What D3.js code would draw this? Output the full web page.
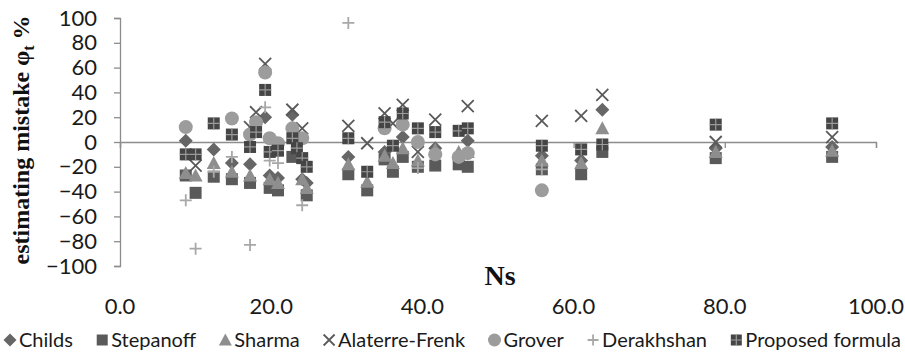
<!DOCTYPE html>
<html><head><meta charset="utf-8">
<script src="https://cdn.jsdelivr.net/npm/d3@7"></script>
<style>
html,body{margin:0;padding:0;background:#fff;}
svg{display:block;}
</style></head>
<body>
<svg id="chart" width="905" height="356"></svg>
<script>
// ---- data ----
const ns = [8.7, 10.0, 12.4, 14.8, 17.2, 18.0, 19.2, 19.8, 20.9, 22.8, 23.4, 24.1, 24.7, 30.2, 32.7, 35.0, 36.1, 37.4, 39.4, 41.7, 44.8, 46.0, 55.8, 61.0, 63.8, 78.8, 94.2];
const childs     = [1, null, -6, -17, -18, null, 20, -27, -29, 22, null, -30, -33, -12, null, -8, null, 4, null, -5, null, 1, -11, -15, 26, -5, -4];
const stepanoff  = [-27, -41, -28, -30, -33, null, null, -37, -39, -12, null, null, -43, -26, -39, -14, -24, -12, -20, -19, -18, -20, -22, -26, -8, -13, -12];
const sharma     = [-25, -27, -17, -24, -27, null, null, -30, -33, null, null, -30, -37, -18, -32, -11, -17, -5, -15, -6, -8, -8, -15, -17, 11, -8, -7];
const alaterre   = [null, -19, null, null, 12, 24, 63, null, null, 26, null, 11, null, 13, -1, 23, 15, 30, -8, 18, null, 29, 17, 21, 38, 0, 4];
const grover     = [12, null, null, 19, 6, 16, 56, 3, -1, 11, null, 3, null, null, null, 11, null, 14, 0, -10, -12, -9, -39, null, null, null, null];
const derakhshan = [-47, -86, -24, -12, -83, null, 28, -15, -17, null, null, -51, null, 96, null, null, null, null, -21, null, null, null, -22, null, null, null, null];
const proposed   = [-10, -10, 15, 6, -4, 8, 42, -8, -7, 3, -5, -13, -20, 3, -24, 16, -3, 23, 11, 8, 9, 11, -3, -6, -2, 14, 15];

const seriesNames = ["Childs", "Stepanoff", "Sharma", "Alaterre-Frenk", "Grover", "Derakhshan", "Proposed formula"];
const xTicks = [0, 20, 40, 60, 80, 100];
const yTicks = [100, 80, 60, 40, 20, 0, -20, -40, -60, -80, -100];

const seriesData = [childs, stepanoff, sharma, alaterre, grover, derakhshan, proposed];
const shapes = ["diamond", "square", "triangle", "cross", "circle", "plus", "grid"];
const colors = ["#666666", "#5a5a5a", "#8e8e8e", "#5a5a5a", "#9c9c9c", "#a8a8a8", "#454545"];

// ---- layout ----
const svg = d3.select("#chart");
const x = d3.scaleLinear().domain([0, 100]).range([120, 876]);
const y = d3.scaleLinear().domain([-100, 100]).range([266, 18]);
const SANS = "Lato, 'Open Sans', sans-serif";
const SERIF = "'Liberation Serif', 'DejaVu Serif', serif";
const axisColor = "#8c8c8c";

// y axis (left)
const yAxis = d3.axisLeft(y).tickValues(yTicks).tickSize(6).tickPadding(17).tickFormat(d3.format("d"));
const gy = svg.append("g").attr("transform", "translate(120,0)").call(yAxis);
gy.select(".domain").attr("stroke", axisColor).attr("stroke-width", 1.3);
gy.selectAll(".tick line").attr("stroke", axisColor).attr("stroke-width", 1.3);
gy.selectAll(".tick text").attr("font-family", SANS).attr("font-size", 22).attr("fill", "#1a1a1a");

// x axis at y = 0
const xAxis = d3.axisBottom(x).tickValues(xTicks).tickSize(6).tickFormat("");
const gx = svg.append("g").attr("transform", `translate(0,${y(0)})`).call(xAxis);
gx.select(".domain").attr("stroke", axisColor).attr("stroke-width", 1.3);
gx.selectAll(".tick line").attr("stroke", axisColor).attr("stroke-width", 1.3);

// x tick labels at the bottom (low position)
svg.append("g").selectAll("text").data(xTicks).join("text")
  .attr("x", d => x(d)).attr("y", 314)
  .attr("text-anchor", "middle")
  .attr("font-family", SANS).attr("font-size", 22).attr("fill", "#1a1a1a")
  .text(d => d3.format(".1f")(d));

// axis titles
svg.append("text").attr("x", 500).attr("y", 285).attr("text-anchor", "middle")
  .attr("font-family", SERIF).attr("font-weight", "bold").attr("font-size", 28).attr("fill", "#111")
  .text("Ns");

const yt = svg.append("text")
  .attr("transform", "translate(29,140) rotate(-90)")
  .attr("text-anchor", "middle")
  .attr("font-family", SERIF).attr("font-weight", "bold").attr("font-size", 24).attr("fill", "#111");
yt.append("tspan").text("estimating mistake φ");
yt.append("tspan").attr("font-size", 16).attr("dy", 5).text("t");
yt.append("tspan").attr("dy", -5).text(" %");

// marker drawing
function drawMarker(g, shape, color, s) {
  const h = s / 2;
  if (shape === "diamond") {
    g.append("path").attr("d", `M0,${-h-1}L${h+1},0L0,${h+1}L${-h-1},0Z`).attr("fill", color);
  } else if (shape === "square") {
    g.append("rect").attr("x", -h).attr("y", -h).attr("width", s).attr("height", s).attr("fill", color);
  } else if (shape === "triangle") {
    g.append("path").attr("d", `M0,${-h-1}L${h+1},${h}L${-h-1},${h}Z`).attr("fill", color);
  } else if (shape === "cross") {
    g.append("path").attr("d", `M${-h},${-h}L${h},${h}M${h},${-h}L${-h},${h}`).attr("stroke", color).attr("stroke-width", 1.8).attr("fill", "none");
  } else if (shape === "circle") {
    g.append("circle").attr("r", h + 1).attr("fill", color);
  } else if (shape === "plus") {
    g.append("path").attr("d", `M${-h},0L${h},0M0,${-h}L0,${h}`).attr("stroke", color).attr("stroke-width", 1.8).attr("fill", "none");
  } else if (shape === "grid") {
    g.append("rect").attr("x", -h).attr("y", -h).attr("width", s).attr("height", s).attr("fill", color);
    g.append("path").attr("d", `M${-h},0L${h},0M0,${-h}L0,${h}`).attr("stroke", "#9a9a9a").attr("stroke-width", 1.2);
  }
}

// plot points
seriesData.forEach((vals, si) => {
  const pts = ns.map((n, i) => ({ n, v: vals[i] })).filter(p => p.v !== null);
  const g = svg.append("g").attr("class", "series-" + si);
  g.selectAll("g").data(pts).join("g")
    .attr("transform", d => `translate(${x(d.n)},${y(d.v)})`)
    .each(function() { drawMarker(d3.select(this), shapes[si], colors[si], 12); });
});

// legend: items spread evenly between left and right edges
const lg = svg.append("g").attr("transform", "translate(0,340)");
const items = seriesNames.map((name, i) => {
  const item = lg.append("g");
  drawMarker(item.append("g").attr("transform", "translate(6,0)"), shapes[i], colors[i], 11);
  const t = item.append("text").attr("x", 15).attr("y", 0).attr("dy", "0.35em")
    .attr("font-family", SANS).attr("font-size", 20).attr("fill", "#1a1a1a").text(name);
  return { item, w: 15 + t.node().getComputedTextLength() };
});
const left = 4, right = 901;
const totalW = d3.sum(items, d => d.w);
const gap = (right - left - totalW) / (items.length - 1);
let cx = left;
items.forEach(d => { d.item.attr("transform", `translate(${cx},0)`); cx += d.w + gap; });
</script>
</body></html>
